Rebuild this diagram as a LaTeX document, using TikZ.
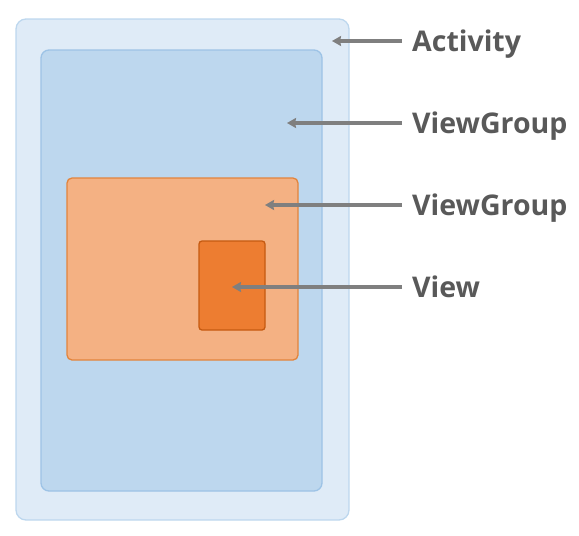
\documentclass[tikz,border=0pt]{standalone}
\usepackage{fontspec}
\setsansfont{Open Sans}
\usetikzlibrary{positioning,arrows.meta}
\definecolor{actfill}{HTML}{DFEBF7}
\definecolor{actline}{HTML}{BDD7EE}
\definecolor{grpfill}{HTML}{BDD7EE}
\definecolor{grpline}{HTML}{9DC3E6}
\definecolor{subfill}{HTML}{F4B183}
\definecolor{subline}{HTML}{E2843C}
\definecolor{viewfill}{HTML}{ED7D31}
\definecolor{viewline}{HTML}{C55A11}
\definecolor{txt}{HTML}{595959}
\definecolor{arr}{HTML}{7F7F7F}

\begin{document}
\begin{tikzpicture}[x=1pt, y=-1pt,
  box/.style={draw, line width=1.3pt, inner sep=0pt},
  label/.style={anchor=west, inner sep=0pt, text height=20.5pt, text depth=0pt, text=txt,
    font=\sffamily\bfseries\fontsize{28.5}{31}\selectfont},
  pointer/.style={draw=arr, line width=3.3pt, shorten <=10pt, -{Stealth[length=9pt,width=10pt,inset=1pt]}}]
  \useasboundingbox (0,0) rectangle (579,536);
  % nested boxes
  \node[box, fill=actfill, draw=actline, rounded corners=10pt,
        minimum width=333pt, minimum height=501pt] (activity) at (182.5,269.5) {};
  \node[box, fill=grpfill, draw=grpline, rounded corners=8pt,
        minimum width=281pt, minimum height=441pt] (group) at (181.5,270.5) {};
  \node[box, fill=subfill, draw=subline, rounded corners=5pt,
        minimum width=231pt, minimum height=182pt] (subgroup) at (182.5,269) {};
  \node[box, fill=viewfill, draw=viewline, rounded corners=3pt,
        minimum width=66pt, minimum height=89pt] (view) at (232,285.5) {};
  % labels
  \node[label] (lactivity) at (412,41) {Activity};
  \node[label] (lgroup) at (412,123) {ViewGroup};
  \node[label] (lsubgroup) at (412,205) {ViewGroup};
  \node[label] (lview) at (412,287) {View};
  % pointers
  \coordinate (pactivity) at (332,41);
  \coordinate (pgroup) at (287,123);
  \coordinate (psubgroup) at (265,205);
  \coordinate (pview) at (232,287);
  \draw[pointer] (lactivity.west) -- (pactivity);
  \draw[pointer] (lgroup.west) -- (pgroup);
  \draw[pointer] (lsubgroup.west) -- (psubgroup);
  \draw[pointer] (lview.west) -- (pview);
\end{tikzpicture}
\end{document}
